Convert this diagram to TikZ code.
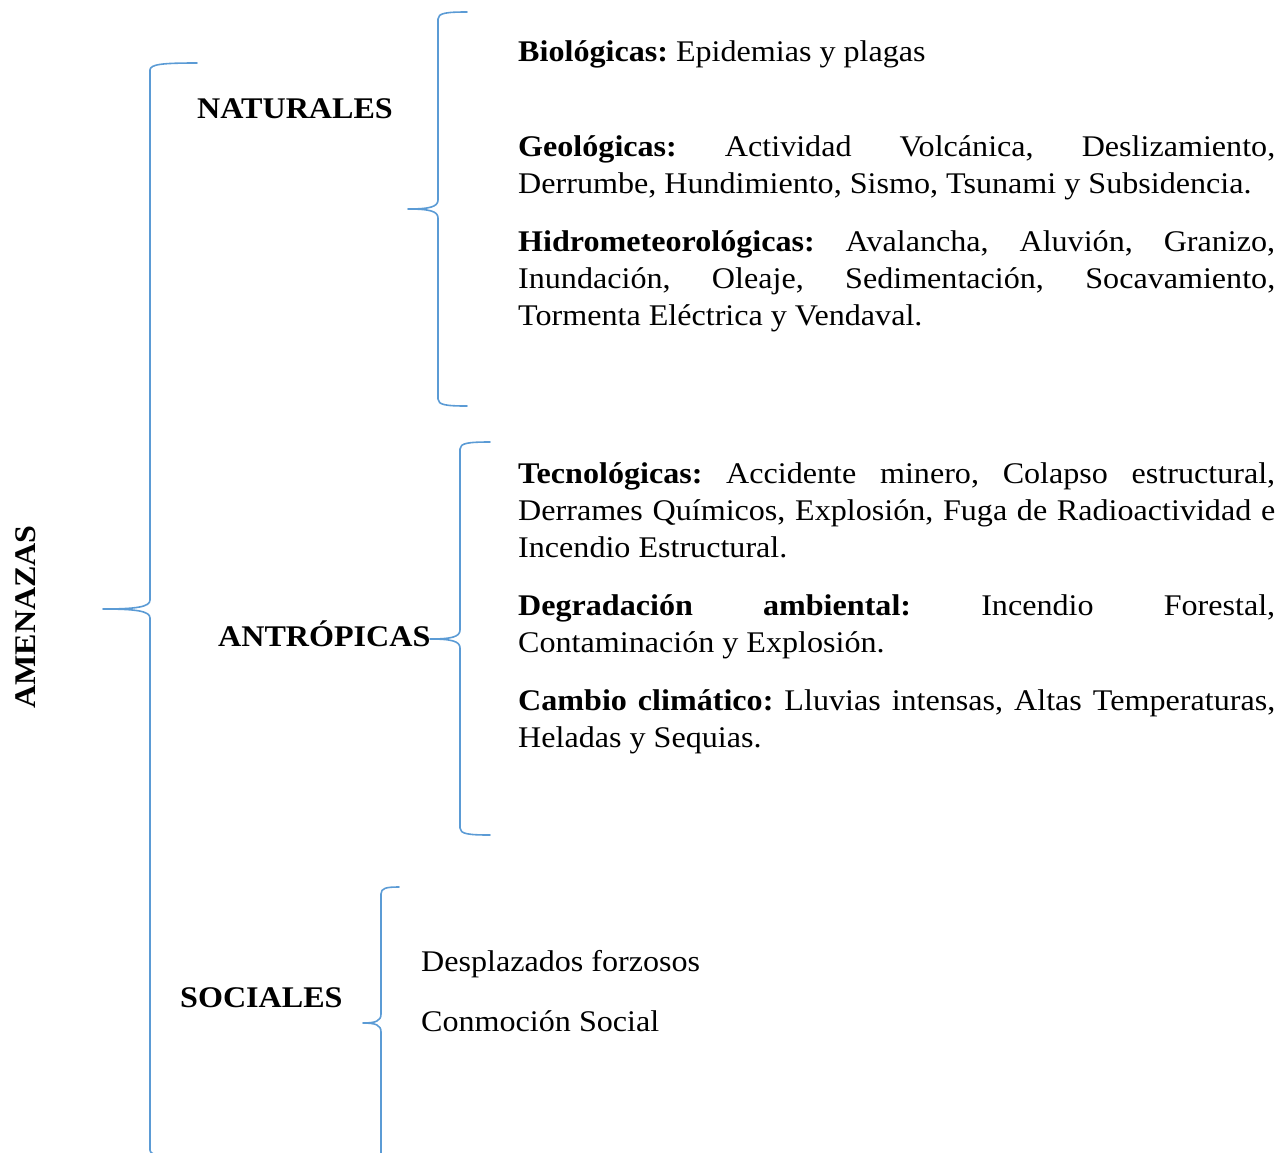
\documentclass[tikz,border=0pt]{standalone}
\usepackage{fontspec}
\setmainfont[FakeStretch=1.07]{Liberation Serif}
\usepackage{tikz}
\usetikzlibrary{positioning}
\frenchspacing
\definecolor{llaveazul}{HTML}{5B9BD5}
\tikzset{
    llave/.style={draw=llaveazul, line width=1.6pt, line cap=round, line join=round},
    titulo/.style={font=\fontsize{30}{37}\selectfont\bfseries, inner sep=0pt, anchor=base west},
    texto/.style={font=\fontsize{30}{37}\selectfont, inner sep=0pt, anchor=base west,
        text width=757pt, align=justify},
}
% llave: x, arriba, medio, abajo, brazo, punta
\newcommand{\llave}[6]{%
    \draw[llave] ({#1+#5},#2) .. controls ({#1+0.3*#5},#2) and (#1,{#2+1}) .. (#1,{#2+7})
        -- (#1,{#3-9}) .. controls (#1,{#3-2}) and ({#1-0.3*#6},#3) .. ({#1-#6},#3)
        .. controls ({#1-0.3*#6},#3) and (#1,{#3+2}) .. (#1,{#3+9})
        -- (#1,{#4-7}) .. controls (#1,{#4-1}) and ({#1+0.3*#5},#4) .. ({#1+#5},#4);
}

\begin{document}
\begin{tikzpicture}[x=1pt,y=-1pt]
\useasboundingbox (0,0) rectangle (1285,1152);
\clip (0,0) rectangle (1285,1152);

        % llaves
        \llave{150}{63}{609}{1157}{47}{47}
        \llave{438}{12}{209}{406}{29}{30}
        \llave{460}{442}{639}{835}{30}{30}
        \llave{381}{887}{1023}{1300}{18}{18}

        % titulos
        \node[titulo, rotate=90, anchor=base] (amenazas) at (35,617) {AMENAZAS};
        \node[titulo] (naturales) at (197,118) {NATURALES};
        \node[titulo] (antropicas) at (218,646) {ANTRÓPICAS};
        \node[titulo] (sociales) at (180,1007) {SOCIALES};

        % naturales
        \node[texto] (biologicas) at (518,61) {\textbf{Biológicas:} Epidemias y plagas};
        \node[texto] (geologicas) at (518,156) {\textbf{Geológicas:} Actividad Volcánica, Deslizamiento,\linebreak
            Derrumbe, Hundimiento, Sismo, Tsunami y Subsidencia.};
        \node[texto] (hidro) at (518,251) {\textbf{Hidrometeorológicas:} Avalancha, Aluvión, Granizo,\linebreak
            Inundación, Oleaje, Sedimentación, Socavamiento,\linebreak Tormenta Eléctrica y Vendaval.};

        % antropicas
        \node[texto] (tecnologicas) at (518,483) {\textbf{Tecnológicas:} Accidente minero, Colapso estructural,\linebreak
            Derrames Químicos, Explosión, Fuga de Radioactividad e\linebreak Incendio Estructural.};
        \node[texto] (degradacion) at (518,615) {\textbf{Degradación ambiental:} Incendio Forestal,\linebreak
            Contaminación y Explosión.};
        \node[texto] (cambio) at (518,710) {\textbf{Cambio climático:} Lluvias intensas, Altas Temperaturas,\linebreak
            Heladas y Sequias.};

        % sociales
        \node[texto] (desplazados) at (421,971) {Desplazados forzosos};
        \node[texto] (conmocion) at (421,1031) {Conmoción Social};
\end{tikzpicture}
\end{document}
